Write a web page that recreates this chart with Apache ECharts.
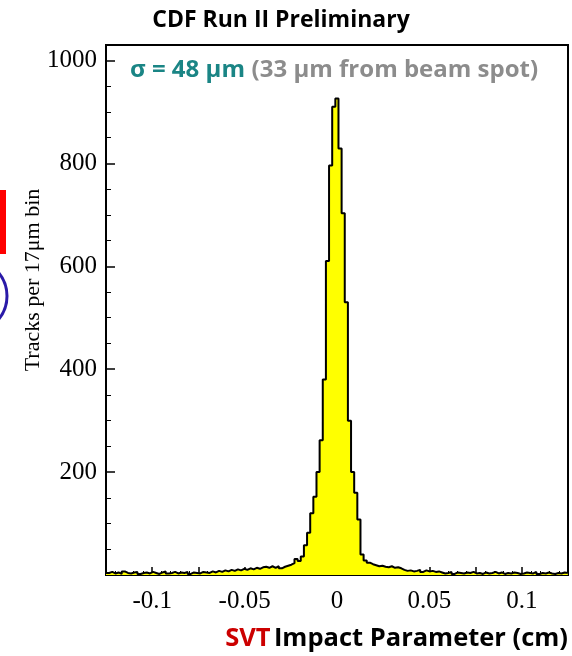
<!DOCTYPE html>
<html><head><meta charset="utf-8">
<script src="https://cdn.jsdelivr.net/npm/echarts@6/dist/echarts.min.js"></script>
<style>html,body{margin:0;padding:0;background:#fff}#c{width:572px;height:656px}</style>
</head><body><div id="c"></div>
<script>
// Histogram: 147 bins of 17 um (0.0017 cm) starting at -0.125 cm
const histMin = -0.125;
const binWidth = 0.0017;
const tailLeft = [4,6,3,5,2,7,4,3,5,6, 2,4,5,3,6,4,2,5,7,3, 4,6,3,5,4,6,2,5,4,3, 6,5,4,7,5];
const riseLeft = [8,6,9,7,10,8,11,9,12,10,13,11,14,12,15,16,14,17];
const nearLeft = [14,17,13,16,18,20,23,31,27,36];
const peak = [58,82,120,152,200,262,380,610,796,910,926,829,703,530,300,200,160,108,40,28,24];
const nearRight = [21,19,17,18,16,15,17,14,15,13];
const fallRight = [10,8,9,7,8,10,6,9,7,8,6,7];
const tailRight = [5,3,4,6,2,5,4,3,5,4, 6,3,4,2,5,3,4,6,3,5, 2,4,3,5,4,2,3,5,4,3, 6,2,4,3,5,3,2,4,3,5, 4];
const counts = [].concat(tailLeft, riseLeft, nearLeft, peak, nearRight, fallRight, tailRight);
const xTickLabels = ['-0.1','-0.05','0','0.05','0.1'];
const yTickLabels = ['200','400','600','800','1000'];

const stepData = counts.map((v, i) => [histMin + i * binWidth, v]);
stepData.push([histMin + counts.length * binWidth, counts[counts.length - 1]]);

const chart = echarts.init(document.getElementById('c'), null, {renderer: 'canvas'});
chart.setOption({
  animation: false,
  grid: {left: 106, right: 4, top: 45, bottom: 81, show: true, borderColor: '#000', borderWidth: 2, backgroundColor: 'transparent'},
  xAxis: {
    type: 'value', min: -0.125, max: 0.125, interval: 0.025,
    axisLine: {onZero: false, lineStyle: {color: '#000', width: 2}},
    axisTick: {inside: true, length: 8, lineStyle: {color: '#000', width: 1.5}},
    minorTick: {show: true, splitNumber: 5, length: 4, lineStyle: {color: '#000', width: 1}},
    splitLine: {show: false},
    axisLabel: {
      margin: 14, color: '#000', fontFamily: 'Liberation Serif', fontSize: 25,
      formatter: v => { const s = String(Math.round(v * 1000) / 1000); return xTickLabels.includes(s) ? s : ''; }
    }
  },
  yAxis: {
    type: 'value', min: 0, max: 1030, interval: 200,
    axisLine: {show: true, onZero: false, lineStyle: {color: '#000', width: 2}},
    axisTick: {inside: true, length: 9, lineStyle: {color: '#000', width: 1.5}},
    minorTick: {show: true, splitNumber: 4, length: 5, lineStyle: {color: '#000', width: 1}},
    splitLine: {show: false},
    axisLabel: {
      margin: 9, color: '#000', fontFamily: 'Liberation Serif', fontSize: 25,
      formatter: v => { const s = String(Math.round(v)); return yTickLabels.includes(s) ? s : ''; }
    }
  },
  series: [{
    type: 'line', step: 'end', data: stepData, symbol: 'none',
    lineStyle: {color: '#000', width: 2},
    areaStyle: {color: '#ffff00', opacity: 1}
  }],
  graphic: [
    {type: 'text', x: 281, y: 20, style: {text: 'CDF Run II Preliminary', font: 'bold 23px "Open Sans"', fill: '#000', align: 'center', verticalAlign: 'middle'}},
    {type: 'text', x: 130, y: 70, style: {
      text: '{a|σ = 48 μm}  {b|(33 μm from beam spot)}', verticalAlign: 'middle', align: 'left',
      rich: {
        a: {font: 'bold 24px "Open Sans"', fill: '#1a8585'},
        b: {font: 'bold 24px "Open Sans"', fill: '#8c8c8c'}
      }
    }},
    {type: 'text', x: 568, y: 639, style: {
      text: '{r|SVT} {k|Impact Parameter (cm)}', verticalAlign: 'middle', align: 'right',
      rich: {
        r: {font: 'bold 25.5px "Open Sans"', fill: '#cc0000'},
        k: {font: 'bold 25.5px "Open Sans"', fill: '#000'}
      }
    }},
    {type: 'text', x: 33, y: 280, rotation: Math.PI / 2, style: {text: 'Tracks per 17μm bin', font: '22px "Liberation Serif"', fill: '#000', align: 'center', verticalAlign: 'middle'}},
    {type: 'rect', shape: {x: 0, y: 190, width: 6, height: 64}, style: {fill: '#ff0000'}},
    {type: 'circle', shape: {cx: -29.5, cy: 296, r: 36.5}, style: {fill: 'none', stroke: '#2a1aa8', lineWidth: 3}}
  ]
});
</script>
</body></html>
